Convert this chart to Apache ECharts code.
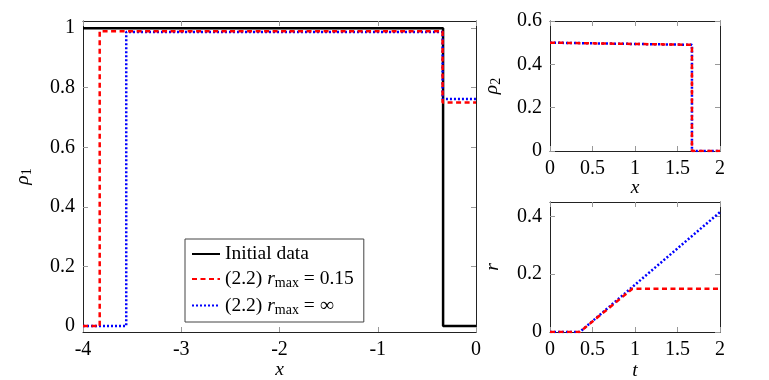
<!DOCTYPE html>
<html>
<head>
<meta charset="utf-8">
<script src="https://cdn.jsdelivr.net/npm/echarts@6/dist/echarts.min.js"></script>
<style>
html, body { margin: 0; background: #fff; }
#chart { width: 769px; height: 380px; }
</style>
</head>
<body>
<div id="chart"></div>
<script>
// left panel: rho_1 over x
const initialRho1 = [[-4, 1], [-0.335, 1], [-0.335, 0], [0, 0]];
const rho1Capped = [[-4, 0], [-3.83, 0], [-3.83, 0.99], [-0.34, 0.99], [-0.34, 0.75], [0, 0.75]];
const rho1Uncapped = [[-4, 0], [-3.56, 0], [-3.56, 0.987], [-0.34, 0.987], [-0.34, 0.762], [0, 0.762]];
// top right: rho_2 over x
const rho2Capped = [[0, 0.5], [1.67, 0.49], [1.67, 0], [2, 0]];
const rho2Uncapped = [[0, 0.5], [1.67, 0.49], [1.67, 0], [2, 0]];
// bottom right: r over t
const rCapped = [[0, 0], [0.35, 0], [0.97, 0.15], [2, 0.15]];
const rUncapped = [[0, 0], [0.35, 0], [2, 0.415]];

const mainXTicks = [-4, -3, -2, -1, 0];
const mainYTicks = [0, 0.2, 0.4, 0.6, 0.8, 1];
const smallXTicks = [0, 0.5, 1, 1.5, 2];
const rho2Ticks = [0, 0.2, 0.4, 0.6];
const rTicks = [0, 0.2, 0.4];

const serif = 'Liberation Serif';
const RED = '#ff0000';
const BLUE = '#0000ff';

const mathRich = {
    i: { fontFamily: serif, fontStyle: 'italic', fontSize: 19.5, color: '#000' },
    s: { fontFamily: serif, fontStyle: 'normal', fontSize: 14, color: '#000', padding: [9, 0, 0, 0] },
    a: { fontFamily: serif, fontStyle: 'normal', fontSize: 19.5, color: '#000' }
};

function valAxis(grid, pos, min, max, ticks, showLabels, name, nameGap) {
    return {
        type: 'value',
        gridIndex: grid,
        position: pos,
        min: min,
        max: max,
        name: name || '',
        nameLocation: 'middle',
        nameGap: nameGap || 0,
        nameMoveOverlap: false,
        nameTextStyle: { fontFamily: serif, fontStyle: 'italic', fontSize: 19.5, color: '#000', rich: mathRich },
        axisLine: { show: true, onZero: false, lineStyle: { color: '#222', width: 1 } },
        axisTick: { show: true, inside: true, length: 5, customValues: ticks, lineStyle: { color: '#999' } },
        axisLabel: {
            show: showLabels,
            customValues: ticks,
            margin: 8,
            fontFamily: serif,
            fontSize: 20,
            color: '#000'
        },
        splitLine: { show: false }
    };
}

// g = panel number, each panel owns axes 2g (bottom/left) and 2g+1 (top/right)
function lineSeries(name, data, g, color, width, type, z) {
    return {
        name: name,
        type: 'line',
        xAxisIndex: 2 * g,
        yAxisIndex: 2 * g,
        data: data,
        showSymbol: false,
        symbol: 'none',
        z: z,
        lineStyle: { color: color, width: width, type: type },
        itemStyle: { color: color },
        animation: false
    };
}

const chart = echarts.init(document.getElementById('chart'), null, { renderer: 'canvas' });

chart.setOption({
    backgroundColor: '#fff',
    animation: false,
    grid: [
        { left: 83, top: 21, width: 393, height: 311, outerBoundsMode: 'none' },
        { left: 550, top: 21, width: 170, height: 130, outerBoundsMode: 'none' },
        { left: 550, top: 202, width: 170, height: 130, outerBoundsMode: 'none' }
    ],
    xAxis: [
        valAxis(0, 'bottom', -4, 0, mainXTicks, true, 'x', 28),
        valAxis(0, 'top', -4, 0, mainXTicks, false),
        valAxis(1, 'bottom', 0, 2, smallXTicks, true, 'x', 27),
        valAxis(1, 'top', 0, 2, smallXTicks, false),
        valAxis(2, 'bottom', 0, 2, smallXTicks, true, 't', 29),
        valAxis(2, 'top', 0, 2, smallXTicks, false)
    ],
    yAxis: [
        valAxis(0, 'left', -0.02, 1.024, mainYTicks, true, '{i|ρ}{s|1}', 49),
        valAxis(0, 'right', -0.02, 1.024, mainYTicks, false),
        valAxis(1, 'left', 0, 0.6, rho2Ticks, true, '{i|ρ}{s|2}', 47),
        valAxis(1, 'right', 0, 0.6, rho2Ticks, false),
        valAxis(2, 'left', 0, 0.45, rTicks, true, 'r', 47),
        valAxis(2, 'right', 0, 0.45, rTicks, false)
    ],
    legend: {
        left: 185,
        top: 239,
        orient: 'vertical',
        selectedMode: false,
        backgroundColor: '#fff',
        borderColor: '#444',
        borderWidth: 1,
        padding: [5, 10, 5, 6],
        itemWidth: 28,
        itemHeight: 14,
        itemGap: 5,
        itemStyle: { opacity: 0 },
        textStyle: { fontFamily: serif, fontSize: 19.5, color: '#000', rich: mathRich },
        data: ['Initial data', 'capped', 'uncapped'],
        formatter: function (name) {
            if (name === 'capped') return '{a|(2.2) }{i|r}{s|max}{a| = 0.15}';
            if (name === 'uncapped') return '{a|(2.2) }{i|r}{s|max}{a| = ∞}';
            return name;
        }
    },
    series: [
        lineSeries('Initial data', initialRho1, 0, '#000', 2.5, 'solid', 3),
        lineSeries('uncapped', rho1Uncapped, 0, BLUE, 2.5, [2, 2], 4),
        lineSeries('capped', rho1Capped, 0, RED, 2.5, [5, 3.5], 5),
        lineSeries('uncapped', rho2Uncapped, 1, BLUE, 2.5, [2, 2], 4),
        lineSeries('capped', rho2Capped, 1, RED, 2.5, [5, 3.5], 5),
        lineSeries('uncapped', rUncapped, 2, BLUE, 2.5, [2, 2], 4),
        lineSeries('capped', rCapped, 2, RED, 2.5, [5, 3.5], 5)
    ]
});
</script>
</body>
</html>
